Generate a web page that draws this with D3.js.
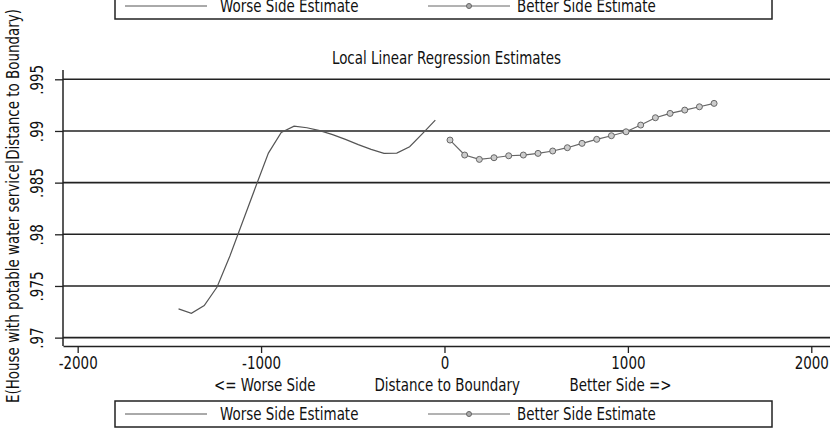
<!DOCTYPE html>
<html>
<head>
<meta charset="utf-8">
<script src="https://cdn.jsdelivr.net/npm/d3@7.9.0/dist/d3.min.js"></script>
<style>
  body { margin: 0; background: #fff; }
  svg { display: block; }
  text { font-family: "Liberation Sans Narrow", "DejaVu Sans Condensed", sans-serif; fill: #111; font-size: 18px; }
</style>
</head>
<body>
<svg id="chart" width="830" height="428"></svg>
<script>
// distance to boundary (x) and estimates (y)
const worseX = [-1450, -1380, -1310, -1240, -1170, -1100, -1030, -960, -890, -820, -750,
                -680, -610, -540, -470, -400, -330, -260, -190, -120, -50];
const worseY = [.97278, .97236, .97311, .97490, .97790, .98124, .98457, .98786, .98985, .99047, .99031,
                .99004, .98965, .98919, .98868, .98822, .98783, .98786, .98847, .98975, .99105];

const betterX = [30, 110, 190, 270, 350, 430, 510, 590, 670, 750, 830, 910, 990,
                 1070, 1150, 1230, 1310, 1390, 1470];
const betterY = [.98912, .98767, .98725, .98741, .98760, .98767, .98783, .98806, .98838, .98880,
                 .98919, .98954, .98992, .99057, .99128, .99170, .99202, .99234, .99267];

const xTicks = [-2000, -1000, 0, 1000, 2000];
const yTicks = [.97, .975, .98, .985, .99, .995];
const yTickLabels = ['.97', '.975', '.98', '.985', '.99', '.995'];
const xTitleParts = ['<= Worse Side', 'Distance to Boundary', 'Better Side =>'];
const legendLabels = ['Worse Side Estimate', 'Better Side Estimate'];

const svg = d3.select('#chart');
const plotLeft = 63, plotRight = 830, plotTop = 70, plotBottom = 346;
const squeeze = 0.83; // the original font is a narrow one

// squash text horizontally so the wide fallback font matches the narrow original
function condense(sel) {
  sel.each(function () {
    const w = this.getComputedTextLength();
    d3.select(this).attr('textLength', w * squeeze).attr('lengthAdjust', 'spacingAndGlyphs');
  });
}

const x = d3.scaleLinear().domain([-2080, 2102]).range([plotLeft, plotRight]);
const y = d3.scaleLinear().domain([.96919, .99590]).range([plotBottom, plotTop]);

// horizontal grid lines
svg.append('g')
  .selectAll('line')
  .data(yTicks)
  .join('line')
  .attr('x1', plotLeft).attr('x2', plotRight)
  .attr('y1', d => y(d)).attr('y2', d => y(d))
  .attr('stroke', '#222').attr('stroke-width', 1.6);

// y axis
const yAxis = svg.append('g')
  .attr('transform', `translate(${plotLeft},0)`)
  .call(d3.axisLeft(y).tickValues(yTicks).tickSize(8).tickFormat((d, i) => yTickLabels[i]).tickSizeOuter(0));
yAxis.select('.domain').attr('stroke', '#222').attr('stroke-width', 1.5)
  .attr('d', `M0,${plotBottom}V${plotTop}`);
yAxis.selectAll('.tick line').attr('stroke', '#222').attr('stroke-width', 1.3);
yAxis.selectAll('.tick text')
  .attr('x', null).attr('dy', null)
  .attr('transform', 'translate(-20,0) rotate(-90)')
  .attr('text-anchor', 'middle')
  .attr('font-size', null).attr('font-family', null).attr('fill', '#111')
  .call(condense);

// x axis
const xAxis = svg.append('g')
  .attr('transform', `translate(0,${plotBottom})`)
  .call(d3.axisBottom(x).tickValues(xTicks).tickSize(7).tickFormat(d3.format('d')).tickSizeOuter(0));
xAxis.select('.domain').attr('stroke', '#222').attr('stroke-width', 1.5);
xAxis.selectAll('.tick line').attr('stroke', '#222').attr('stroke-width', 1.3);
xAxis.selectAll('.tick text')
  .attr('y', 23).attr('dy', null)
  .attr('font-size', null).attr('font-family', null).attr('fill', '#111')
  .text(d => d < 0 ? '-' + Math.abs(d) : d)
  .call(condense);

// x title in three pieces
const titleCenters = [-980, 15, 960];
svg.append('g')
  .selectAll('text')
  .data(xTitleParts)
  .join('text')
  .attr('x', (d, i) => x(titleCenters[i]))
  .attr('y', 391)
  .attr('text-anchor', 'middle')
  .text(d => d)
  .call(condense);

// y title
svg.append('text')
  .attr('transform', `translate(19,206) rotate(-90)`)
  .attr('text-anchor', 'middle')
  .text('E(House with potable water service|Distance to Boundary)')
  .call(condense);

// chart title
svg.append('text')
  .attr('x', (plotLeft + plotRight) / 2).attr('y', 64)
  .attr('text-anchor', 'middle')
  .text('Local Linear Regression Estimates')
  .call(condense);

// series
const line = d3.line().x(d => x(d[0])).y(d => y(d[1]));
const worse = worseX.map((v, i) => [v, worseY[i]]);
const better = betterX.map((v, i) => [v, betterY[i]]);

svg.append('path').datum(worse)
  .attr('d', line).attr('fill', 'none')
  .attr('stroke', '#555').attr('stroke-width', 1.2);

svg.append('path').datum(better)
  .attr('d', line).attr('fill', 'none')
  .attr('stroke', '#666').attr('stroke-width', 1.2);

svg.append('g').selectAll('circle')
  .data(better)
  .join('circle')
  .attr('cx', d => x(d[0])).attr('cy', d => y(d[1]))
  .attr('r', 3).attr('fill', '#ccc').attr('stroke', '#666').attr('stroke-width', 1);

// legend (drawn twice: full one at bottom, clipped copy at top)
function drawLegend(ty) {
  const g = svg.append('g').attr('transform', `translate(0,${ty})`);
  g.append('rect').attr('x', 115).attr('y', 0).attr('width', 657).attr('height', 26)
    .attr('fill', 'none').attr('stroke', '#222').attr('stroke-width', 1.5);
  g.append('line').attr('x1', 125).attr('x2', 207).attr('y1', 13).attr('y2', 13)
    .attr('stroke', '#555').attr('stroke-width', 1);
  g.append('text').attr('x', 220).attr('y', 19).text(legendLabels[0]).call(condense);
  g.append('line').attr('x1', 428).attr('x2', 510).attr('y1', 13).attr('y2', 13)
    .attr('stroke', '#666').attr('stroke-width', 1);
  g.append('circle').attr('cx', 469).attr('cy', 13).attr('r', 2.5)
    .attr('fill', '#aaa').attr('stroke', '#666');
  g.append('text').attr('x', 517).attr('y', 19).text(legendLabels[1]).call(condense);
}
drawLegend(401);
drawLegend(-7);
</script>
</body>
</html>
